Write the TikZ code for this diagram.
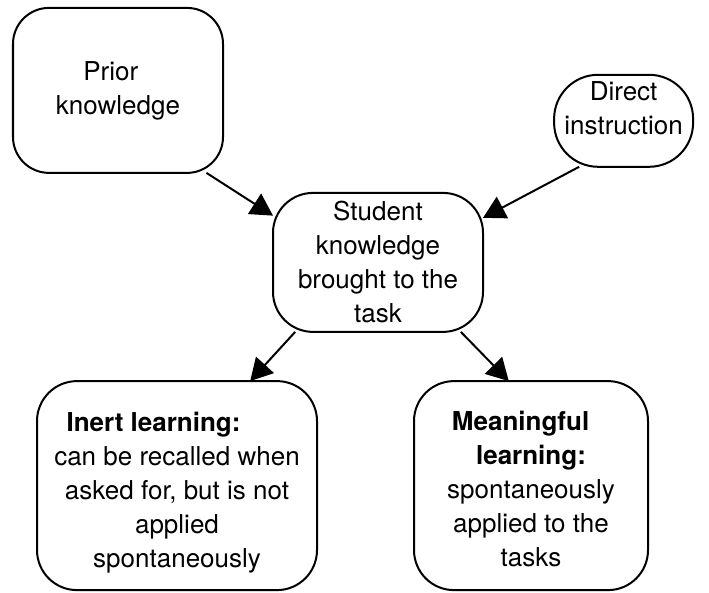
\documentclass[tikz,border=0pt]{standalone}
\usepackage{fontspec}
\setmainfont{TeX Gyre Heros}
\usetikzlibrary{arrows.meta}
\begin{document}
\begin{tikzpicture}[>={Triangle[length=0.55cm,width=0.6cm]},
    bubble/.style={draw, line width=0.05cm, rounded corners=1cm, align=center,
      outer sep=0pt, inner sep=0pt, font=\fontsize{18.5}{24.2}\selectfont}]
    \useasboundingbox (0,0) rectangle (17.725,14.8);
    \node[bubble, minimum width=5.25cm, minimum height=4.125cm, rounded corners=0.9cm] (prior) at (2.95,12.54) {Prior\hspace*{0.55em}\\knowledge};
    \node[bubble, minimum width=3.475cm, minimum height=2.3cm, rounded corners=1.1cm] (direct) at (15.59,11.78) {Direct\\instruction\rule[-0.62cm]{0pt}{0pt}};
    \node[bubble, minimum width=5.25cm, minimum height=3.475cm] (student) at (9.45,8.24) {Student\\knowledge\\brought to the\hspace*{0.55em}\\task};
    \node[bubble, minimum width=7cm, minimum height=5.225cm] (inert) at (4.425,2.66) {\rule{0pt}{0.82cm}\textbf{Inert learning:}\hspace*{1.8em}\\can be recalled when\\asked for, but is not\hspace*{0.6em}\\applied\\spontaneously};
    \node[bubble, minimum width=5.85cm, minimum height=5.225cm] (meaningful) at (13.275,2.66) {\rule{0pt}{0.67cm}\textbf{Meaningful}\hspace*{0.8em}\\\textbf{learning:}\hspace*{0.8em}\\spontaneously\\applied to the\\tasks};
    \draw[->, line width=0.05cm] (prior.-43) -- (student.156);
    \draw[->, line width=0.05cm] (direct.-134) -- (student.23);
    \draw[->, line width=0.05cm] (student.-140) -- (inert.55);
    \draw[->, line width=0.05cm] (student.-40) -- (meaningful.102);
\end{tikzpicture}
\end{document}
